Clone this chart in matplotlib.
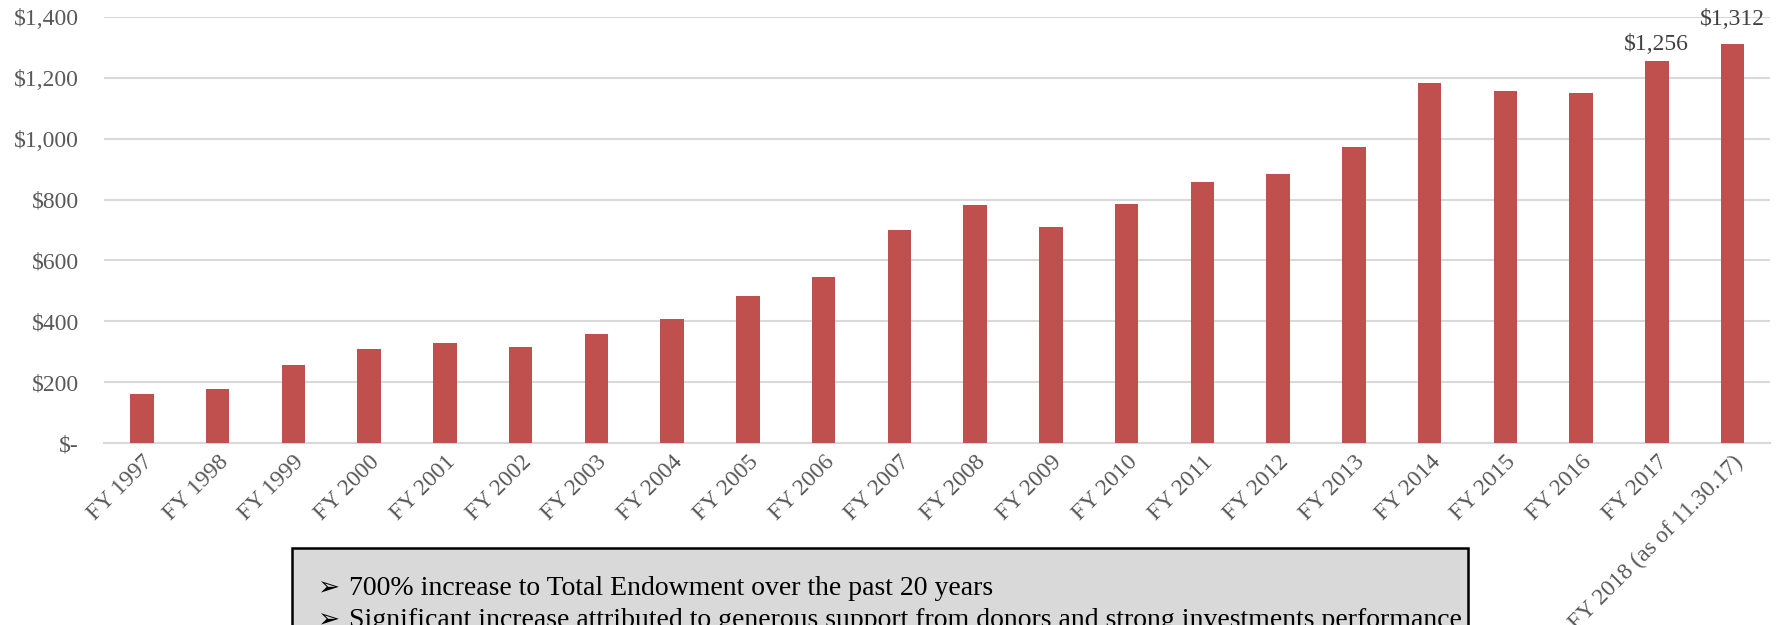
import matplotlib.pyplot as plt
from matplotlib.patches import Rectangle

plt.rcParams.update({
    "font.family": ["Liberation Serif", "DejaVu Sans"],
    "font.size": 17,
})

# endowment, $ millions
years = ["FY 1997", "FY 1998", "FY 1999", "FY 2000", "FY 2001", "FY 2002",
         "FY 2003", "FY 2004", "FY 2005", "FY 2006", "FY 2007", "FY 2008",
         "FY 2009", "FY 2010", "FY 2011", "FY 2012", "FY 2013", "FY 2014",
         "FY 2015", "FY 2016", "FY 2017", "FY 2018 (as of 11.30.17)"]
values = [162, 177, 257, 308, 328, 316, 358, 407, 482, 547, 700, 781,
          710, 785, 859, 884, 973, 1181, 1156, 1151, 1256, 1312]
labelled = {20: "$1,256", 21: "$1,312"}
yticks = [0, 200, 400, 600, 800, 1000, 1200, 1400]
ytick_labels = ["$-", "$200", "$400", "$600", "$800", "$1,000", "$1,200", "$1,400"]
notes = ["700% increase to Total Endowment over the past 20 years",
         "Significant increase attributed to generous support from donors "
         "and strong investments performance"]

bar_color = "#c0504d"
grid_color = "#d9d9d9"
tick_color = "#595959"

fig = plt.figure(figsize=(17.77, 6.25), dpi=100)
ax = fig.add_axes([0.0585, 0.2907, 0.9378, 0.6826])

x = range(len(years))
ax.bar(x, values, width=0.31, color=bar_color, zorder=3)

# last label sits a bit higher in the original (pushed up to fit)
label_offset = {20: 4, 21: 10}
for i, txt in labelled.items():
    ax.annotate(txt, (i, values[i]), xytext=(0, label_offset[i]),
                textcoords="offset points", ha="center", va="bottom",
                color="#404040", fontsize=17, annotation_clip=False)

ax.set_xlim(-0.5, len(years) - 0.5)
ax.set_ylim(0, 1400)
ax.set_yticks(yticks)
ax.set_yticklabels(ytick_labels)
ax.set_xticks(list(x))
ax.set_xticklabels(years, rotation=45, ha="right", rotation_mode="anchor")
ax.tick_params(axis="both", length=0, colors=tick_color, labelsize=17)
ax.tick_params(axis="x", pad=6)
ax.tick_params(axis="y", pad=18)
ax.yaxis.grid(True, color=grid_color, lw=1.5, zorder=0)

for s in ["top", "right", "left"]:
    ax.spines[s].set_visible(False)
ax.spines["bottom"].set_color(grid_color)
ax.spines["bottom"].set_linewidth(1.5)

# note box, runs off the bottom of the figure
box = Rectangle((0.1643, -0.2), 0.6617, 0.3232, transform=fig.transFigure,
                facecolor="#d9d9d9", edgecolor="black", lw=1.8, zorder=5)
fig.patches.append(box)

for k, line in enumerate(notes):
    yy = 0.058 - k * 0.0504
    fig.text(0.1784, yy, "\u27a2", fontsize=19, va="center", ha="left",
             family="DejaVu Sans", zorder=6)
    fig.text(0.1964, yy, line, fontsize=20, va="center", ha="left",
             color="black", zorder=6)

fig.savefig("out.png", dpi=100)
